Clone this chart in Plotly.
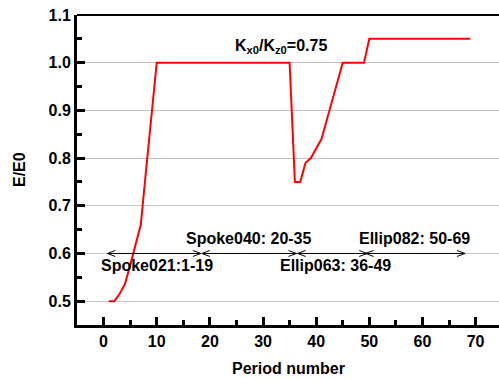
import plotly.graph_objects as go

# ---- data ----
periods = list(range(1, 70))
energy_ratio = (
    [0.50, 0.50, 0.515, 0.535, 0.575, 0.615, 0.66, 0.775, 0.89]
    + [1.0] * 26            # periods 10-35
    + [0.75, 0.75, 0.79, 0.80, 0.82, 0.84, 0.88, 0.92, 0.96]  # 36-44
    + [1.0] * 5             # 45-49
    + [1.05] * 20           # 50-69
)

segment_labels = ["Spoke021:1-19", "Spoke040: 20-35", "Ellip063: 36-49", "Ellip082: 50-69"]
segment_starts = [0.7, 18.5, 36.5, 49.3]
segment_ends = [18.3, 36.3, 49.6, 68.0]
segment_label_x = [10.1, 27.3, 43.7, 58.5]
segment_label_y = [0.575, 0.632, 0.575, 0.632]
arrow_y = 0.6

ratio_text = "K<sub>x0</sub>/K<sub>z0</sub>=0.75"
ratio_text_x = 33.3
ratio_text_y = 1.033

x_title = "Period number"
y_title = "E/E0"
x_tick_vals = [0, 10, 20, 30, 40, 50, 60, 70]
x_minor_vals = [5, 15, 25, 35, 45, 55, 65]
y_tick_vals = [0.5, 0.6, 0.7, 0.8, 0.9, 1.0, 1.1]
y_minor_vals = [0.55, 0.65, 0.75, 0.85, 0.95, 1.05]

FONT = "Liberation Sans, Arial, sans-serif"
INK = "black"

fig = go.Figure()
fig.add_trace(go.Scatter(
    x=periods, y=energy_ratio, mode="lines",
    line=dict(color="#ff0000", width=2), showlegend=False, hoverinfo="skip",
))

shapes = []
for s, e in zip(segment_starts, segment_ends):
    shapes.append(dict(type="line", xref="x", yref="y", x0=s, x1=e, y0=arrow_y, y1=arrow_y,
                       line=dict(color=INK, width=1)))
    for tip, direction in ((s, 1), (e, -1)):
        for dy in (3, -3):
            shapes.append(dict(type="line", xref="x", yref="y",
                               xsizemode="pixel", xanchor=tip, x0=0, x1=8 * direction,
                               ysizemode="pixel", yanchor=arrow_y, y0=0, y1=dy,
                               line=dict(color=INK, width=1)))
# top frame line
shapes.append(dict(type="line", xref="paper", yref="paper", x0=0, x1=1, y0=1, y1=1,
                   line=dict(color=INK, width=2)))

annotations = []
for txt, x, y in zip(segment_labels, segment_label_x, segment_label_y):
    annotations.append(dict(x=x, y=y, xref="x", yref="y", text=f"<b>{txt}</b>", showarrow=False,
                            font=dict(family=FONT, size=16, color="black"),
                            xanchor="center", yanchor="middle"))
annotations.append(dict(x=ratio_text_x, y=ratio_text_y, xref="x", yref="y", text=f"<b>{ratio_text}</b>",
                        showarrow=False, font=dict(family=FONT, size=16, color="black"),
                        xanchor="center", yanchor="middle"))
annotations.append(dict(x=0.5, y=0, xref="paper", yref="paper", yshift=-43, text=f"<b>{x_title}</b>",
                        showarrow=False, font=dict(family=FONT, size=16, color="black"),
                        xanchor="center", yanchor="middle"))
annotations.append(dict(x=0, y=0.5, xref="paper", yref="paper", xshift=-58, text=f"<b>{y_title}</b>",
                        textangle=-90, showarrow=False, font=dict(family=FONT, size=16, color="black"),
                        xanchor="center", yanchor="middle"))

fig.update_layout(
    width=499, height=379,
    margin=dict(l=77, r=0, t=15, b=54),
    paper_bgcolor="white", plot_bgcolor="white",
    font=dict(family=FONT, size=16, color="black"),
    shapes=shapes, annotations=annotations,
    showlegend=False,
)
fig.update_xaxes(
    range=[-5, 74.4], tickvals=x_tick_vals, ticktext=[f"<b>{v}</b>" for v in x_tick_vals],
    ticks="inside", ticklen=8, tickwidth=3, tickcolor=INK,
    minor=dict(tickvals=x_minor_vals, ticks="inside", ticklen=5, tickwidth=3, tickcolor=INK, showgrid=False),
    showline=True, linecolor=INK, linewidth=3, showgrid=False, zeroline=False,
    tickfont=dict(family=FONT, size=16, color="black"),
)
fig.update_yaxes(
    range=[0.45, 1.1], tickvals=y_tick_vals, ticktext=[f"<b>{v:.1f}</b>" for v in y_tick_vals],
    ticks="inside", ticklen=8, tickwidth=3, tickcolor=INK,
    minor=dict(tickvals=y_minor_vals, ticks="inside", ticklen=5, tickwidth=3, tickcolor=INK, showgrid=False),
    showline=True, linecolor=INK, linewidth=3,
    showgrid=True, gridcolor="#c4c4c4", gridwidth=1, zeroline=False,
    tickfont=dict(family=FONT, size=16, color="black"),
)

fig.write_html("out.html", config={"displayModeBar": False},
               post_script="document.body.style.margin='0';document.body.style.padding='0';")
